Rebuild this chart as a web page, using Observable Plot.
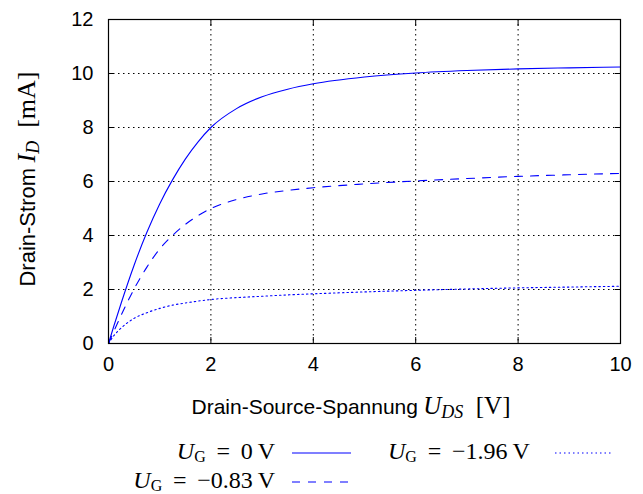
<!DOCTYPE html>
<html>
<head>
<meta charset="utf-8">
<script src="https://cdn.jsdelivr.net/npm/d3@7"></script>
<script src="https://cdn.jsdelivr.net/npm/@observablehq/plot@0.6"></script>
<style>
  html, body { margin: 0; padding: 0; background: #fff; }
  #wrap { position: relative; width: 643px; height: 494px; overflow: hidden; }
  .leg { position: absolute; font-family: "Liberation Serif", serif; font-size: 24px; white-space: nowrap; line-height: 24px; }
  .leg i { font-style: italic; }
  .leg sub { font-size: 16px; vertical-align: -3px; line-height: 0; }
  .leg .rel { margin: 0 0.45em; }
</style>
</head>
<body>
<div id="wrap"></div>
<script>
// Drain-Source voltage samples (V)
const uds = [0, 0.1, 0.25, 0.5, 0.75, 1, 1.25, 1.5, 1.75, 2, 2.5, 3, 3.5, 4, 5, 6, 7, 8, 9, 10];
// Drain current (mA) for each gate voltage
const id_0V    = [0, 0.62, 1.51, 2.90, 4.12, 5.17, 6.06, 6.83, 7.47, 8.0, 8.70, 9.14, 9.42, 9.62, 9.87, 10.02, 10.11, 10.17, 10.21, 10.24];
const id_m083V = [0, 0.43, 1.06, 2.02, 2.83, 3.50, 4.00, 4.41, 4.74, 5.0, 5.33, 5.54, 5.67, 5.77, 5.91, 6.02, 6.11, 6.19, 6.25, 6.30];
const id_m196V = [0, 0.28, 0.58, 0.93, 1.14, 1.30, 1.42, 1.50, 1.57, 1.63, 1.70, 1.75, 1.80, 1.84, 1.91, 1.97, 2.02, 2.06, 2.09, 2.12];
const seriesNames = ["0 V", "−0.83 V", "−1.96 V"];
const xTicks = [0, 2, 4, 6, 8, 10];
const yTicks = [0, 2, 4, 6, 8, 10, 12];
const xGrid = [2, 4, 6, 8];
const yGrid = [2, 4, 6, 8, 10];

const series = [id_0V, id_m083V, id_m196V];
const dashes = [null, "8,8", "1.5,3"];
const table = series.flatMap((ys, k) => uds.map((u, i) => ({u, i: ys[i], s: seriesNames[k]})));

const plot = Plot.plot({
  width: 643,
  height: 425,
  marginLeft: 108,
  marginRight: 23,
  marginTop: 19,
  marginBottom: 82,
  x: {domain: [0, 10], ticks: xTicks},
  y: {domain: [0, 12], ticks: yTicks},
  style: {fontFamily: "Liberation Sans, sans-serif", fontSize: "20px", color: "black", background: "white"},
  marks: [
    Plot.ruleX(xGrid, {stroke: "black", strokeDasharray: "1.5,3.5"}),
    Plot.ruleY(yGrid, {stroke: "black", strokeDasharray: "1.5,3.5"}),
    ...seriesNames.map((name, k) => Plot.line(table.filter(d => d.s === name), {
      x: "u", y: "i", stroke: "#0000ff", strokeWidth: 1.1, curve: "monotone-x",
      strokeDasharray: dashes[k]
    })),
    Plot.frame({stroke: "black", strokeWidth: 1.2}),
    Plot.axisX(xTicks, {anchor: "bottom", tickSize: -6, tickFormat: () => "", label: null}),
    Plot.axisX(xTicks, {anchor: "top", tickSize: -6, tickFormat: () => "", label: null}),
    Plot.axisY(yTicks, {anchor: "left", tickSize: -6, tickFormat: () => "", label: null}),
    Plot.axisY(yTicks, {anchor: "right", tickSize: -6, tickFormat: () => "", label: null}),
    Plot.axisX(xTicks, {anchor: "bottom", tickSize: 0, tickPadding: 13, label: null}),
    Plot.axisY(yTicks, {anchor: "left", tickSize: 0, tickPadding: 15, label: null})
  ]
});

document.getElementById("wrap").appendChild(plot);
const svg = d3.select(plot);

// x axis label
const xl = svg.append("text")
  .attr("x", 351).attr("y", 414)
  .attr("text-anchor", "middle")
  .attr("font-size", 21);
xl.append("tspan").attr("font-family", "Liberation Sans, sans-serif").text("Drain-Source-Spannung\u2005");
xl.append("tspan").attr("font-family", "Liberation Serif, serif").attr("font-style", "italic").attr("font-size", 25).text("U");
xl.append("tspan").attr("font-family", "Liberation Serif, serif").attr("font-style", "italic").attr("font-size", 18).attr("dy", 4).text("DS");
xl.append("tspan").attr("font-family", "Liberation Serif, serif").attr("font-size", 25).attr("dy", -4).text("\u2002[V]");

// y axis label
const yl = svg.append("text")
  .attr("transform", "translate(35,179) rotate(-90)")
  .attr("text-anchor", "middle")
  .attr("font-size", 22);
yl.append("tspan").attr("font-family", "Liberation Sans, sans-serif").text("Drain-Strom\u2005");
yl.append("tspan").attr("font-family", "Liberation Serif, serif").attr("font-style", "italic").attr("font-size", 26).text("I");
yl.append("tspan").attr("font-family", "Liberation Serif, serif").attr("font-style", "italic").attr("font-size", 18).attr("dy", 4).text("D");
yl.append("tspan").attr("font-family", "Liberation Serif, serif").attr("font-size", 26).attr("dy", -4).text("\u2002[mA]");

// legend (HTML below the svg)
const wrap = document.getElementById("wrap");
const legendItems = [
  {k: 0, textRight: 275, top: 439, x1: 292, x2: 351},
  {k: 2, textLeft: 388, top: 439, x1: 555, x2: 612},
  {k: 1, textRight: 275, top: 468, x1: 292, x2: 351}
];
legendItems.forEach(it => {
  const div = document.createElement("div");
  div.className = "leg";
  const val = seriesNames[it.k].replace(" ", "\u2009");
  div.innerHTML = `<i>U</i><sub>G</sub><span class="rel">=</span>${val}`;
  div.style.top = it.top + "px";
  if (it.textRight !== undefined) { div.style.right = (643 - it.textRight) + "px"; }
  else { div.style.left = it.textLeft + "px"; }
  wrap.appendChild(div);
  const ns = "http://www.w3.org/2000/svg";
  const s = document.createElementNS(ns, "svg");
  s.setAttribute("width", it.x2 - it.x1);
  s.setAttribute("height", 4);
  s.style.position = "absolute";
  s.style.left = it.x1 + "px";
  s.style.top = (it.top + 12) + "px";
  const ln = document.createElementNS(ns, "line");
  ln.setAttribute("x1", 0); ln.setAttribute("x2", it.x2 - it.x1);
  ln.setAttribute("y1", 2); ln.setAttribute("y2", 2);
  ln.setAttribute("stroke", "#0000ff"); ln.setAttribute("stroke-width", 1.1);
  if (dashes[it.k]) ln.setAttribute("stroke-dasharray", dashes[it.k]);
  s.appendChild(ln);
  wrap.appendChild(s);
});
</script>
</body>
</html>
